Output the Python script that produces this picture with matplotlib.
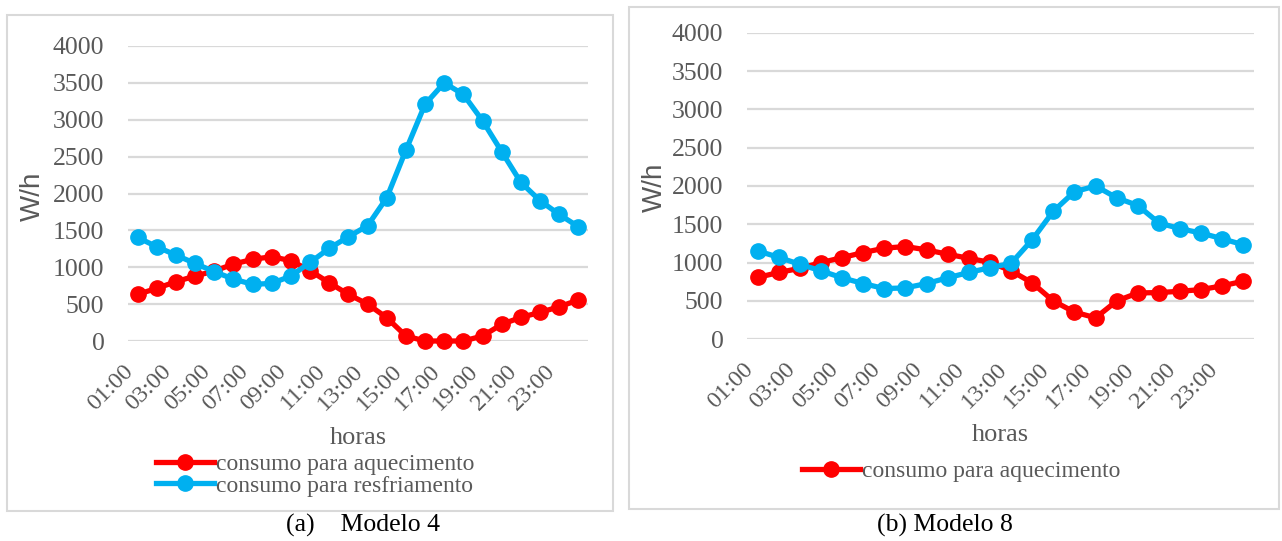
import numpy as np
import matplotlib
matplotlib.use("Agg")
import matplotlib.pyplot as plt
from matplotlib.patches import Rectangle
from matplotlib.transforms import ScaledTranslation

# --- Data ---
horas = [f"{h:02d}:00" for h in range(1, 25)]

aquec_m4 = [632, 714, 804, 881, 949, 1043, 1107, 1143, 1089, 953, 790, 632,
            501, 316, 68, 0, 0, 0, 68, 226, 321, 388, 465, 556]
resfr_m4 = [1405, 1278, 1165, 1052, 940, 840, 768, 781, 881, 1066, 1256, 1414,
            1563, 1942, 2588, 3211, 3500, 3343, 2986, 2566, 2150, 1902, 1716, 1549]

aquec_m8 = [804, 870, 923, 998, 1064, 1130, 1187, 1209, 1165, 1108, 1055, 1002,
            892, 734, 497, 352, 277, 497, 602, 607, 624, 646, 695, 756]
resfr_m8 = [1152, 1068, 976, 892, 800, 725, 659, 668, 725, 800, 870, 932,
            989, 1297, 1670, 1925, 2000, 1846, 1745, 1517, 1442, 1385, 1310, 1231]

yticks = [0, 500, 1000, 1500, 2000, 2500, 3000, 3500, 4000]

# --- Styling ---
plt.rcParams['font.family'] = ['Liberation Serif', 'DejaVu Serif']
RED = '#FF0000'
BLUE = '#00B0F0'
GRAY_TXT = '#595959'
GRID = '#D9D9D9'

W, H = 1282, 541
fig = plt.figure(figsize=(W / 100, H / 100), dpi=100)


def px_axes(x0, x1, ytop, ybot):
    return fig.add_axes([x0 / W, (H - ybot) / H, (x1 - x0) / W, (ybot - ytop) / H])


def draw_panel(ax, aquec, resfr):
    x = np.arange(len(horas))
    ax.plot(x, aquec, color=RED, lw=3.8, marker='o', ms=11, clip_on=False,
            zorder=3, label='consumo para aquecimento')
    ax.plot(x, resfr, color=BLUE, lw=3.8, marker='o', ms=11, clip_on=False,
            zorder=3, label='consumo para resfriamento')
    ax.set_xlim(-0.5, len(horas) - 0.5)
    ax.set_ylim(0, 4000)
    ax.set_yticks(yticks)
    ax.set_xticks(x[::2])
    ax.set_xticklabels(horas[::2], rotation=45, ha='right', va='top')
    # nudge rotated labels a little to the right, as in the original
    shift = ScaledTranslation(5 / 100, -2 / 100, fig.dpi_scale_trans)
    for lab in ax.get_xticklabels():
        lab.set_transform(lab.get_transform() + shift)
    ax.grid(axis='y', color=GRID, lw=1.6)
    ax.set_axisbelow(True)
    for s in ax.spines.values():
        s.set_visible(False)
    ax.tick_params(axis='y', length=0, pad=17, labelsize=18.5, labelcolor=GRAY_TXT)
    ax.tick_params(axis='x', length=0, pad=14, labelsize=17.5, labelcolor=GRAY_TXT)
    ax.set_xlabel('horas', fontsize=19, color=GRAY_TXT)


# --- Panel boxes ---
fig.patches.append(Rectangle((7 / W, (H - 511) / H), 606 / W, 496 / H,
                             transform=fig.transFigure, fill=False,
                             edgecolor=GRID, lw=1.5))
fig.patches.append(Rectangle((629 / W, (H - 509) / H), 650 / W, 502 / H,
                             transform=fig.transFigure, fill=False,
                             edgecolor=GRID, lw=1.5))

# --- Modelo 4 ---
ax1 = px_axes(128, 588, 46, 341)
draw_panel(ax1, aquec_m4, resfr_m4)
ax1.xaxis.set_label_coords(0.5, (341 - 438) / 295)
ax1.xaxis.label.set_va('center')
fig.text(33 / W, 1 - 196 / H, 'W/h', rotation=90, ha='center', va='center',
         fontsize=20, color=GRAY_TXT, family='Liberation Sans')
h, l = ax1.get_legend_handles_labels()
ax1.legend(h, l, loc='center', bbox_to_anchor=(315 / W, 1 - 475 / H),
           bbox_transform=fig.transFigure, frameon=False, fontsize=17,
           handlelength=2.45, handletextpad=0.1, labelspacing=0.0,
           labelcolor=GRAY_TXT, borderpad=0)

# --- Modelo 8 ---
ax2 = px_axes(747, 1254, 33, 339)
draw_panel(ax2, aquec_m8, resfr_m8)
ax2.xaxis.set_label_coords(0.5, (339 - 435) / 306)
ax2.xaxis.label.set_va('center')
fig.text(655 / W, 1 - 187 / H, 'W/h', rotation=90, ha='center', va='center',
         fontsize=20, color=GRAY_TXT, family='Liberation Sans')
h, l = ax2.get_legend_handles_labels()
ax2.legend(h[:1], l[:1], loc='center', bbox_to_anchor=(961 / W, 1 - 471 / H),
           bbox_transform=fig.transFigure, frameon=False, fontsize=17,
           handlelength=2.45, handletextpad=0.1, labelcolor=GRAY_TXT, borderpad=0)

# --- Captions ---
fig.text(363 / W, 1 - 525 / H, '(a)    Modelo 4', ha='center', va='center',
         fontsize=18.5, color='black')
fig.text(945 / W, 1 - 525 / H, '(b) Modelo 8', ha='center', va='center',
         fontsize=18.5, color='black')

fig.savefig('out.png', dpi=100)
